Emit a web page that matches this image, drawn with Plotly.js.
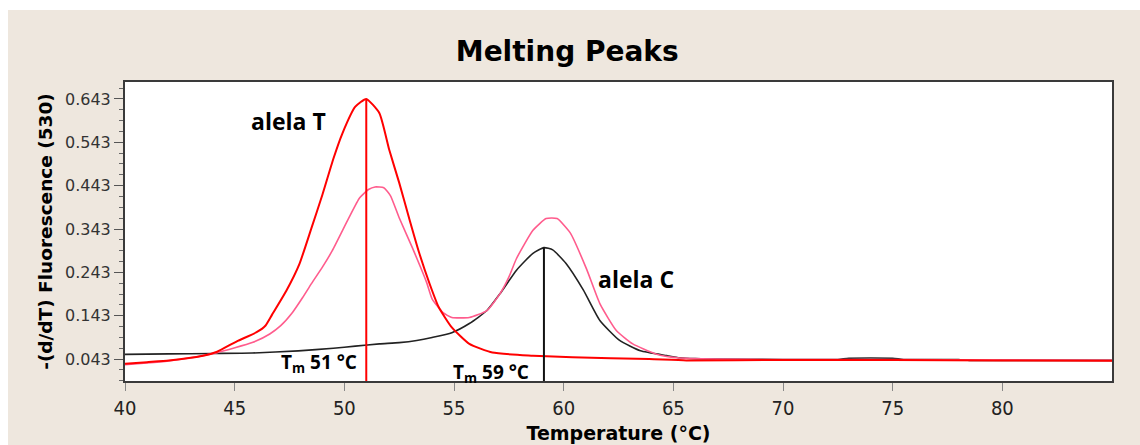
<!DOCTYPE html>
<html>
<head>
<meta charset="utf-8">
<script src="https://cdn.plot.ly/plotly-3.0.1.min.js"></script>
<style>
  html, body { margin: 0; padding: 0; background: #ffffff; width: 1140px; height: 445px; overflow: hidden; }
  #chart { position: absolute; left: 8px; top: 10px; width: 1132px; height: 435px; }
</style>
</head>
<body>
<div id="chart"></div>
<script>
// Temperature (°C) sample points and -(d/dT) Fluorescence (530) values
const redX = [40, 41, 42, 43, 43.5, 44.2, 45.1, 46.0, 46.4, 46.7, 47.35, 47.95, 48.5, 49.0, 49.5, 49.9, 50.5, 51.0, 51.6, 52.05, 52.5, 52.97, 53.4, 53.9, 54.3, 54.9, 55.7, 56.75, 58.6, 60.4, 63.9, 65.6, 70, 75, 80, 85];
const redY = [0.032, 0.036, 0.040, 0.046, 0.050, 0.060, 0.084, 0.105, 0.120, 0.145, 0.200, 0.262, 0.345, 0.422, 0.505, 0.562, 0.625, 0.643, 0.610, 0.525, 0.450, 0.365, 0.290, 0.215, 0.163, 0.116, 0.078, 0.058, 0.051, 0.047, 0.043, 0.040, 0.041, 0.041, 0.040, 0.039];

const pinkX = [40, 41, 42, 43, 44.2, 45.8, 46.6, 47.1, 47.6, 48.1, 48.5, 49.0, 49.45, 50.2, 50.7, 51.1, 51.4, 51.8, 52.1, 52.5, 53.1, 53.75, 54.0, 54.5, 54.9, 55.7, 56.5, 57.1, 57.5, 57.85, 58.6, 59.2, 59.7, 60.3, 61.05, 61.65, 62.4, 63.15, 64.2, 65.2, 67, 70, 75, 80, 85];
const pinkY = [0.030, 0.034, 0.039, 0.046, 0.058, 0.081, 0.101, 0.120, 0.148, 0.185, 0.217, 0.255, 0.293, 0.368, 0.415, 0.434, 0.440, 0.438, 0.420, 0.369, 0.300, 0.220, 0.182, 0.150, 0.139, 0.139, 0.155, 0.194, 0.232, 0.275, 0.340, 0.367, 0.367, 0.334, 0.250, 0.171, 0.109, 0.078, 0.055, 0.046, 0.043, 0.042, 0.042, 0.041, 0.040];

const blackX = [40, 42, 44, 45.8, 47.9, 49.5, 50.5, 51.6, 52.5, 53.3, 54.0, 54.9, 55.7, 56.5, 57.1, 57.85, 58.6, 59.1, 59.5, 60.1, 60.9, 61.65, 62.55, 63.5, 64.7, 65.3, 66, 67, 70, 72.5, 73, 75, 75.5, 78, 78.5, 80, 85];
const blackY = [0.054, 0.055, 0.056, 0.057, 0.062, 0.068, 0.073, 0.078, 0.081, 0.086, 0.093, 0.104, 0.125, 0.155, 0.194, 0.248, 0.287, 0.300, 0.295, 0.264, 0.202, 0.132, 0.086, 0.062, 0.051, 0.046, 0.044, 0.043, 0.042, 0.042, 0.045, 0.045, 0.042, 0.042, 0.040, 0.040, 0.040];

// Melting temperatures and their peak heights
const tmValues = [51.0, 59.1];
const tmPeaks = [0.643, 0.300];
const tmColors = ['#ff0000', '#111111'];

// Labels
const alleleLabels = ['alela T', 'alela C'];
const tmLabels = ['T<sub>m</sub> 51 °C', 'T<sub>m</sub> 59 °C'];
const yTickVals = [0.043, 0.143, 0.243, 0.343, 0.443, 0.543, 0.643];
const xTickVals = [40, 45, 50, 55, 60, 65, 70, 75, 80];

const yMin = -0.0075, yMax = 0.682;

const traces = [
  { x: blackX, y: blackY, mode: 'lines', line: { color: '#222222', width: 1.6, shape: 'spline', smoothing: 0.5 }, hoverinfo: 'skip' },
  { x: pinkX, y: pinkY, mode: 'lines', line: { color: '#ff5c8d', width: 1.6, shape: 'spline', smoothing: 0.5 }, hoverinfo: 'skip' },
  { x: redX, y: redY, mode: 'lines', line: { color: '#ff0000', width: 2, shape: 'spline', smoothing: 0.5 }, hoverinfo: 'skip' }
];

const shapes = tmValues.map((t, i) => ({
  type: 'line', xref: 'x', yref: 'y', x0: t, x1: t, y0: yMin, y1: tmPeaks[i],
  line: { color: tmColors[i], width: 2 }
}));

const annFont = { family: 'Open Sans, Noto Sans, sans-serif', size: 23, color: '#000000', weight: 700 };
const tmFont = { family: 'Open Sans, Noto Sans, sans-serif', size: 19, color: '#000000', weight: 700 };

const annotations = [
  { text: alleleLabels[0], x: 47.45, y: 0.592, xref: 'x', yref: 'y', showarrow: false, font: annFont, xanchor: 'center', yanchor: 'middle' },
  { text: alleleLabels[1], x: 63.3, y: 0.227, xref: 'x', yref: 'y', showarrow: false, font: annFont, xanchor: 'center', yanchor: 'middle' },
  { text: tmLabels[0], x: 48.85, y: 0.033, xref: 'x', yref: 'y', showarrow: false, font: tmFont, xanchor: 'center', yanchor: 'middle' },
  { text: tmLabels[1], x: 56.7, y: 0.012, xref: 'x', yref: 'y', showarrow: false, font: tmFont, xanchor: 'center', yanchor: 'middle' }
];

const layout = {
  width: 1132, height: 435,
  paper_bgcolor: '#eee7de',
  plot_bgcolor: '#ffffff',
  showlegend: false,
  margin: { l: 117, r: 28, t: 72, b: 64 },
  title: {
    text: 'Melting Peaks',
    font: { family: 'DejaVu Sans, sans-serif', size: 28, color: '#000000', weight: 700 },
    xref: 'container', yref: 'container', x: 0.494, y: 0.905, xanchor: 'center', yanchor: 'middle'
  },
  xaxis: {
    range: [40, 85],
    tickmode: 'array', tickvals: xTickVals, ticktext: xTickVals.map(String),
    ticks: 'outside', ticklen: 8, tickwidth: 1, tickcolor: '#888888',
    tickfont: { family: 'Liberation Sans Narrow, DejaVu Sans Condensed, DejaVu Sans, sans-serif', size: 20, color: '#222222' },
    showgrid: false, zeroline: false,
    showline: true, mirror: true, linecolor: '#3a3a3a', linewidth: 2,
    title: { text: 'Temperature (°C)', standoff: 8, font: { family: 'DejaVu Sans, sans-serif', size: 19, color: '#000000', weight: 700 } }
  },
  yaxis: {
    range: [yMin, yMax],
    tickmode: 'array', tickvals: yTickVals, ticktext: yTickVals.map(v => v.toFixed(3)),
    ticks: 'outside', ticklen: 9, tickwidth: 1, tickcolor: '#555555',
    tickfont: { family: 'DejaVu Sans, sans-serif', size: 16, color: '#333333' },
    minor: { tick0: 0.043, dtick: 0.025, ticks: 'outside', ticklen: 4, tickcolor: '#666666', tickwidth: 1, showgrid: false },
    showgrid: false, zeroline: false,
    showline: true, mirror: true, linecolor: '#3a3a3a', linewidth: 2,
    title: { text: '-(d/dT) Fluorescence (530)', standoff: 8, font: { family: 'DejaVu Sans, sans-serif', size: 18.5, color: '#000000', weight: 700 } }
  },
  shapes: shapes,
  annotations: annotations
};

Plotly.newPlot('chart', traces, layout, { displayModeBar: false, staticPlot: true });
</script>
</body>
</html>
